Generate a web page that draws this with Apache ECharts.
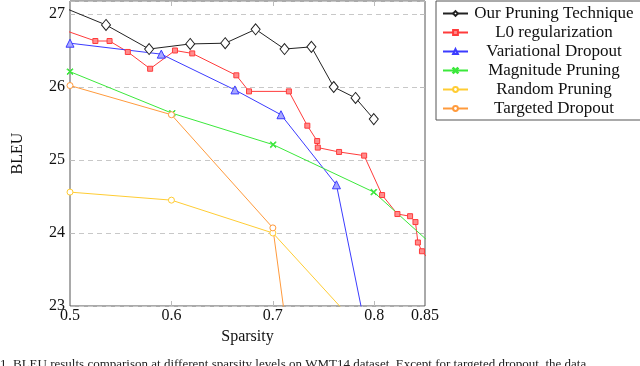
<!DOCTYPE html>
<html>
<head>
<meta charset="utf-8">
<script src="https://cdn.jsdelivr.net/npm/echarts@6/dist/echarts.min.js"></script>
<style>
html,body{margin:0;padding:0;background:#fff;}
#main{width:640px;height:366px;}
</style>
</head>
<body>
<div id="main"></div>
<script>
// values (points outside the range get clipped like in the original)
var ourX = [0.49, 0.5355, 0.578, 0.6185, 0.653, 0.683, 0.7115, 0.738, 0.760, 0.7815, 0.7995];
var ourY = [27.11, 26.85, 26.52, 26.59, 26.60, 26.79, 26.52, 26.55, 26.00, 25.85, 25.56];

var l0X = [0.49, 0.525, 0.539, 0.557, 0.579, 0.6035, 0.6205, 0.664, 0.6765, 0.7158, 0.734, 0.7437, 0.7443, 0.7653, 0.790, 0.8077, 0.8228, 0.8353, 0.8406, 0.843, 0.847, 0.855];
var l0Y = [26.80, 26.63, 26.63, 26.48, 26.25, 26.50, 26.46, 26.16, 25.94, 25.94, 25.47, 25.26, 25.17, 25.11, 25.06, 24.52, 24.26, 24.23, 24.15, 23.87, 23.75, 23.62];

var varX = [0.5, 0.590, 0.6626, 0.708, 0.7627, 0.80];
var varY = [26.60, 26.45, 25.96, 25.62, 24.66, 22.10];

var magX = [0.5, 0.6008, 0.7003, 0.7995, 0.9];
var magY = [26.21, 25.64, 25.21, 24.56, 23.30];

var randX = [0.5, 0.6, 0.7, 0.8];
var randY = [24.56, 24.45, 24.00, 22.48];

var tdX = [0.5, 0.6, 0.7, 0.72];
var tdY = [26.02, 25.62, 24.07, 22.00];

var xLabels = [0.5, 0.6, 0.7, 0.8, 0.85];
var xTicks = [0.6, 0.7, 0.8];
var yTicks = [23, 24, 25, 26, 27];

var names = ['Our Pruning Technique', 'L0 regularization', 'Variational Dropout', 'Magnitude Pruning', 'Random Pruning', 'Targeted Dropout'];

var caption = '1. BLEU results comparison at different sparsity levels on WMT14 dataset. Except for targeted dropout, the data';

function pairs(xs, ys) {
	var out = [];
	for (var i = 0; i < xs.length; i++) {
		out.push([xs[i], ys[i]]);
	}
	return out;
}

var FONT = 'Liberation Serif';
var crossPath = 'path://M0,1L1,0L5,4L9,0L10,1L6,5L10,9L9,10L5,6L1,10L0,9L4,5Z';

function mkSeries(name, xs, ys, stroke, fill, symbol, size) {
	return {
		name: name,
		type: 'line',
		data: pairs(xs, ys),
		clip: true,
		symbol: symbol,
		symbolSize: size,
		showAllSymbol: true,
		lineStyle: {color: stroke, width: 1},
		itemStyle: {color: fill, borderColor: stroke, borderWidth: 1},
		emphasis: {disabled: true}
	};
}

var myChart = echarts.init(document.getElementById('main'));

var option = {
	animation: false,
	backgroundColor: '#fff',
	textStyle: {fontFamily: FONT},
	grid: {
		left: 70, right: 215, top: 1, bottom: 60,
		show: true, borderColor: '#555', borderWidth: 1
	},
	legend: {
		orient: 'vertical',
		left: 436, top: 1,
		padding: [4, 6, 3, 6],
		itemGap: 2,
		itemWidth: 25,
		itemHeight: 6,
		borderColor: '#555',
		borderWidth: 1,
		data: names,
		formatter: function (n) { return '{a|' + n + '}'; },
		textStyle: {
			fontFamily: FONT, fontSize: 17, color: '#111',
			rich: {a: {width: 162, align: 'center', fontFamily: FONT, fontSize: 17, lineHeight: 16, color: '#111'}}
		}
	},
	xAxis: [{
		type: 'value',
		min: 0.5, max: 0.85,
		name: 'Sparsity',
		nameLocation: 'middle',
		nameGap: 19,
		nameTextStyle: {fontFamily: FONT, fontSize: 16, color: '#111'},
		axisLine: {show: false},
		axisTick: {show: true, inside: true, length: 5, customValues: xTicks, lineStyle: {color: '#bbb'}},
		axisLabel: {customValues: xLabels, fontFamily: FONT, fontSize: 16, color: '#111', margin: 2,
			formatter: function (v) { return String(v); }},
		splitLine: {show: false}
	}, {
		type: 'value',
		position: 'top',
		min: 0.5, max: 0.85,
		axisLine: {show: false},
		axisTick: {show: true, inside: true, length: 5, customValues: xTicks, lineStyle: {color: '#bbb'}},
		axisLabel: {show: false},
		splitLine: {show: false}
	}],
	yAxis: [{
		type: 'value',
		min: 23, max: 27.178,
		interval: 1,
		name: 'BLEU',
		nameLocation: 'middle',
		nameGap: 44,
		nameTextStyle: {fontFamily: FONT, fontSize: 16, color: '#111'},
		axisLine: {show: false},
		axisTick: {show: true, inside: true, length: 5, lineStyle: {color: '#bbb'}},
		axisLabel: {customValues: yTicks, fontFamily: FONT, fontSize: 16, color: '#111', margin: 5},
		splitLine: {show: true, lineStyle: {color: '#c8c8c8', type: [5, 4], width: 1}}
	}, {
		type: 'value',
		position: 'right',
		min: 23, max: 27.178,
		interval: 1,
		axisLine: {show: false},
		axisTick: {show: true, inside: true, length: 5, lineStyle: {color: '#bbb'}},
		axisLabel: {show: false},
		splitLine: {show: false}
	}],
	graphic: [{
		type: 'text',
		left: 0, top: 358,
		style: {text: caption, fontFamily: FONT, fontSize: 13, fill: '#222'}
	}],
	series: [
		mkSeries(names[0], ourX, ourY, '#222', '#fff', 'diamond', [9, 11]),
		mkSeries(names[1], l0X, l0Y, '#ff3b3b', '#ff8c8c', 'rect', 5),
		mkSeries(names[2], varX, varY, '#3b3bff', '#a8a8ff', 'triangle', 8),
		mkSeries(names[3], magX, magY, '#3be83b', '#3be83b', crossPath, 6),
		mkSeries(names[4], randX, randY, '#ffcc33', '#fff', 'circle', 6),
		mkSeries(names[5], tdX, tdY, '#ff9a3c', '#fff', 'circle', 6)
	]
};

myChart.setOption(option);
</script>
</body>
</html>
